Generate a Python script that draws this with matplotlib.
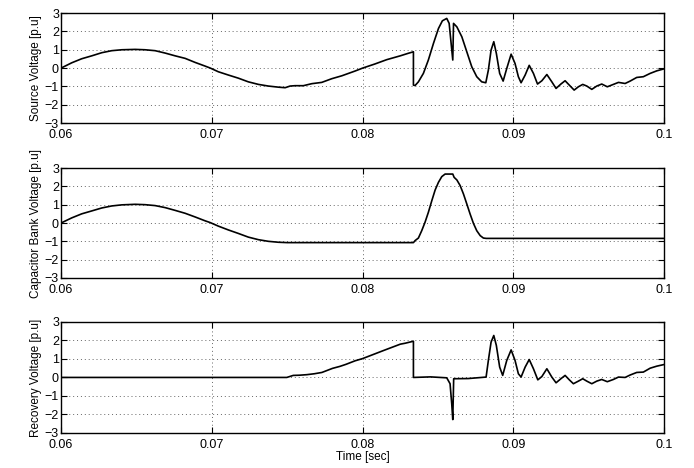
import matplotlib.pyplot as plt

plt.rcParams['font.family'] = ['Liberation Sans', 'DejaVu Sans']

# Source voltage
t_src = [0.06, 0.06071, 0.06137, 0.06204, 0.0627, 0.06336, 0.06403, 0.06491, 0.06557,
         0.06624, 0.0669, 0.06756, 0.06823, 0.06889, 0.06955, 0.0699, 0.07043, 0.0711,
         0.07176, 0.07242, 0.07309, 0.07375, 0.07441, 0.07486, 0.07519, 0.07552,
         0.07607, 0.07663, 0.07729, 0.07795, 0.07862, 0.0795, 0.08, 0.0808, 0.0816,
         0.0825, 0.0830, 0.08337, 0.08337, 0.08348, 0.0837, 0.08403, 0.08436, 0.0847,
         0.08503, 0.08529, 0.08558, 0.08574, 0.08587, 0.08598, 0.08603, 0.08625,
         0.08658, 0.08691, 0.08724, 0.08757, 0.0879, 0.08817, 0.08834, 0.08852,
         0.0887, 0.08887, 0.08909, 0.08932, 0.08956, 0.08985, 0.09011, 0.09033,
         0.09051, 0.09078, 0.09105, 0.09133, 0.0916, 0.09189, 0.09222, 0.09255,
         0.09283, 0.09315, 0.09343, 0.09371, 0.09403, 0.09431, 0.0946, 0.09487,
         0.0952, 0.09553, 0.09586, 0.09623, 0.09663, 0.09697, 0.09741, 0.09774,
         0.09818, 0.09862, 0.09907, 0.09951, 0.1]
v_src = [0.0, 0.29, 0.51, 0.67, 0.84, 0.95, 1.0, 1.02, 1.0,
         0.95, 0.82, 0.67, 0.53, 0.31, 0.11, 0.0, -0.2, -0.38,
         -0.55, -0.75, -0.89, -0.98, -1.04, -1.07, -0.98, -0.96,
         -0.96, -0.85, -0.78, -0.58, -0.42, -0.16, 0.0, 0.22, 0.46,
         0.67, 0.8, 0.89, -0.93, -0.95, -0.75, -0.29, 0.44, 1.35,
         2.16, 2.58, 2.71, 2.44, 1.35, 0.44, 2.44, 2.25,
         1.71, 0.89, 0.07, -0.47, -0.75, -0.8, -0.11, 0.98,
         1.44, 0.8, -0.29, -0.71, -0.02, 0.76, 0.25, -0.47,
         -0.8, -0.38, 0.15, -0.29, -0.87, -0.69, -0.35, -0.75,
         -1.11, -0.87, -0.69, -0.93, -1.2, -1.02, -0.89, -0.98,
         -1.16, -0.98, -0.87, -1.02, -0.89, -0.78, -0.84, -0.71,
         -0.51, -0.47, -0.29, -0.15, -0.04]

# Capacitor bank voltage (middle panel)
t_cap = [0.06, 0.06071, 0.06137, 0.06204, 0.0627, 0.06336, 0.06403, 0.06491, 0.06557,
         0.06624, 0.0669, 0.06756, 0.06823, 0.06889, 0.06955, 0.0699, 0.07043, 0.0711,
         0.07176, 0.07242, 0.07309, 0.07375, 0.07441, 0.075, 0.08337, 0.08348,
         0.0837, 0.08392, 0.08414, 0.08436, 0.08459, 0.08481, 0.08503, 0.08525,
         0.08547, 0.08598, 0.08607, 0.08625, 0.08647, 0.08669, 0.08691, 0.08713,
         0.08735, 0.08757, 0.0878, 0.08801, 0.0882, 0.1]
v_cap = [0.0, 0.28, 0.5, 0.66, 0.82, 0.93, 0.99, 1.02, 1.0,
         0.95, 0.84, 0.69, 0.53, 0.33, 0.12, 0.02, -0.17, -0.38,
         -0.57, -0.77, -0.91, -1.0, -1.05, -1.07, -1.07, -0.96,
         -0.82, -0.42, 0.04, 0.58, 1.22, 1.8, 2.22, 2.53,
         2.67, 2.67, 2.49, 2.35, 2.04, 1.58, 1.04, 0.49,
         -0.02, -0.42, -0.69, -0.82, -0.84, -0.84]

# Recovery voltage (bottom panel)
t_rec = [0.06, 0.07497, 0.0754, 0.0758, 0.0763, 0.0768, 0.0773, 0.078, 0.0785, 0.0789,
         0.0795, 0.08, 0.08143, 0.0825, 0.08282, 0.08337, 0.08337, 0.0845, 0.08558,
         0.0858, 0.08591, 0.08598, 0.08604, 0.087, 0.08819, 0.08834, 0.08852,
         0.0887, 0.08887, 0.08909, 0.08929, 0.08956, 0.08985, 0.09011, 0.09033,
         0.09051, 0.09078, 0.09105, 0.09133, 0.09162, 0.09189, 0.09222, 0.09255,
         0.09283, 0.09315, 0.09343, 0.09371, 0.09398, 0.09431, 0.0946, 0.09487,
         0.0952, 0.09553, 0.09586, 0.09623, 0.09663, 0.09697, 0.09741, 0.09774,
         0.09818, 0.09862, 0.09907, 0.09951, 0.1]
v_rec = [0.0, 0.0, 0.11, 0.12, 0.15, 0.2, 0.27, 0.49, 0.6, 0.71,
         0.9, 1.02, 1.47, 1.8, 1.85, 1.96, 0.0, 0.03, -0.02,
         -0.34, -1.42, -2.28, -0.07, -0.06, 0.02, 0.92, 1.91,
         2.27, 1.73, 0.56, 0.11, 0.92, 1.49, 0.92, 0.2,
         0.02, 0.56, 0.97, 0.47, -0.13, 0.05, 0.47, 0.02,
         -0.29, -0.07, 0.11, -0.13, -0.34, -0.2, -0.07, -0.2,
         -0.34, -0.2, -0.11, -0.23, -0.11, 0.02, 0.0, 0.13,
         0.27, 0.29, 0.5, 0.61, 0.7]

x_ticks = [0.06, 0.07, 0.08, 0.09, 0.1]
x_ticklabels = ['0.06', '0.07', '0.08', '0.09', '0.1']
y_ticks = [-3, -2, -1, 0, 1, 2, 3]
ylabels = ['Source Voltage [p.u]', 'Capacitor Bank Voltage [p.u]', 'Recovery Voltage [p.u]']

fig = plt.figure(figsize=(6.94, 4.68), dpi=100)
positions = [[0.088, 0.737, 0.869, 0.235],
             [0.088, 0.406, 0.869, 0.235],
             [0.088, 0.075, 0.869, 0.237]]
series = [(t_src, v_src), (t_cap, v_cap), (t_rec, v_rec)]

for pos, (t, v), lab in zip(positions, series, ylabels):
    ax = fig.add_axes(pos)
    ax.plot(t, v, color='black', lw=1.2)
    ax.set_xlim(0.06, 0.1)
    ax.set_ylim(-3, 3)
    ax.set_xticks(x_ticks)
    ax.set_xticklabels(x_ticklabels)
    ax.set_yticks(y_ticks)
    ax.grid(True, color='0.4', linestyle=(0, (1, 3)), lw=0.7)
    ax.tick_params(direction='in', top=True, right=True, length=4, labelsize=9)
    ax.tick_params(axis='x', pad=4.5)
    ax.tick_params(axis='y', pad=1.5)
    ax.set_ylabel(lab, fontsize=8.5, labelpad=2)
    for s in ax.spines.values():
        s.set_linewidth(1.0)

ax.set_xlabel('Time [sec]', fontsize=8.5, labelpad=0)

fig.savefig('out.png', dpi=100)
